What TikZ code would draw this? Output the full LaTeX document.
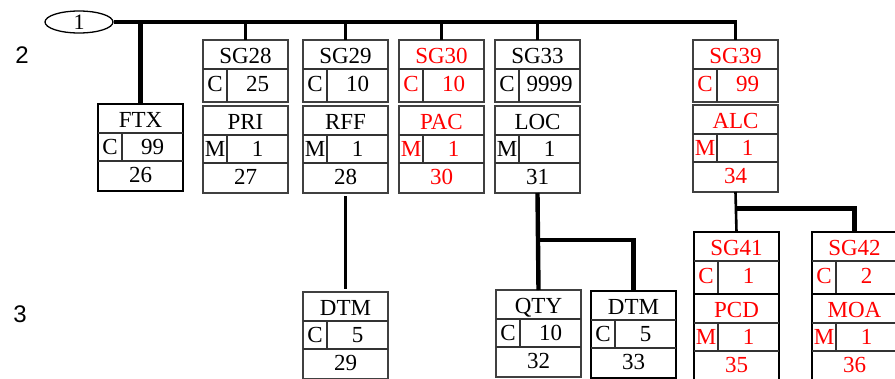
\documentclass[tikz,border=0pt]{standalone}
\usepackage{fontspec}
\setmainfont{Liberation Serif}
\newfontfamily\lblsans{Liberation Sans}
\usetikzlibrary{shapes.geometric}

\tikzset{
  boxframe/.style={rectangle, draw=black!75, line width=1.8pt, inner sep=0pt, outer sep=0pt, minimum width=85pt, anchor=north west},
  boxdark/.style={boxframe, draw=black, line width=2.3pt},
  rowline/.style={draw=black!80, line width=1.6pt},
  segtxt/.style={inner sep=0pt, font=\fontsize{23}{25}\selectfont, text height=15pt, text depth=0pt},
  mainlink/.style={line width=3.6pt},
  thinlink/.style={line width=2.6pt},
  thicklink/.style={line width=4.4pt},
  levellbl/.style={font=\lblsans\fontsize{24}{26}\selectfont}
}

% group box: id, x, y, name, status, repeat, colour, frame
\newcommand{\grpbox}[8]{%
  \node[#8, minimum height=62pt] (#1) at (#2,#3) {};
  \draw[rowline] (#2,#3+29) -- ++(85,0);
  \draw[rowline] (#2+24,#3+29) -- ++(0,33);
  \node[segtxt, text=#7] (#1-name) at (#2+42.5,#3+16) {#4};
  \node[segtxt, text=#7] (#1-st) at (#2+12,#3+44) {#5};
  \node[segtxt, text=#7] (#1-rep) at (#2+54.5,#3+44) {#6};
}

% segment box: id, x, y, name, status, repeat, position, colour, frame
\newcommand{\segbox}[9]{%
  \node[#9, minimum height=87pt] (#1) at (#2,#3) {};
  \draw[rowline] (#2,#3+29) -- ++(85,0);
  \draw[rowline] (#2,#3+57) -- ++(85,0);
  \draw[rowline] (#2+24,#3+29) -- ++(0,28);
  \node[segtxt, text=#8] (#1-name) at (#2+42.5,#3+16) {#4};
  \node[segtxt, text=#8] (#1-st) at (#2+12,#3+43) {#5};
  \node[segtxt, text=#8] (#1-rep) at (#2+54.5,#3+43) {#6};
  \node[segtxt, text=#8] (#1-pos) at (#2+42.5,#3+71) {#7};
}

\begin{document}
\begin{tikzpicture}[x=1pt, y=-1pt]
  \useasboundingbox (0,0) rectangle (895,378);
  \clip (0,0) rectangle (895,378);

  % Level labels
  \node[levellbl] (lvl2) at (22,55) {2};
  \node[levellbl] (lvl3) at (20,314) {3};

  % Root
  \node[ellipse, draw, line width=1.3pt, minimum width=68pt, minimum height=22pt, inner sep=0pt,
        font=\fontsize{22}{24}\selectfont] (root) at (79,22) {1};

  % Level 2
  \segbox{ftx}{98}{104}{FTX}{C}{99}{26}{black}{boxdark}
  \grpbox{sg28}{203}{40}{SG28}{C}{25}{black}{boxframe}
  \segbox{pri}{203}{106}{PRI}{M}{1}{27}{black}{boxframe}
  \grpbox{sg29}{303}{40}{SG29}{C}{10}{black}{boxframe}
  \segbox{rff}{303}{106}{RFF}{M}{1}{28}{black}{boxframe}
  \grpbox{sg30}{399}{40}{SG30}{C}{10}{red}{boxframe}
  \segbox{pac}{399}{106}{PAC}{M}{1}{30}{red}{boxframe}
  \grpbox{sg33}{495}{40}{SG33}{C}{9999}{black}{boxframe}
  \segbox{loc}{495}{106}{LOC}{M}{1}{31}{black}{boxframe}
  \grpbox{sg39}{693}{40}{SG39}{C}{99}{red}{boxframe}
  \segbox{alc}{693}{105}{ALC}{M}{1}{34}{red}{boxframe}

  % Level 3
  \segbox{dtm29}{303}{292}{DTM}{C}{5}{29}{black}{boxframe}
  \segbox{qty}{496}{290}{QTY}{C}{10}{32}{black}{boxframe}
  \segbox{dtm33}{591}{291}{DTM}{C}{5}{33}{black}{boxdark}
  \grpbox{sg41}{694}{232}{SG41}{C}{1}{red}{boxdark}
  \segbox{pcd}{694}{294}{PCD}{M}{1}{35}{red}{boxdark}
  \grpbox{sg42}{812}{232}{SG42}{C}{2}{red}{boxdark}
  \segbox{moa}{812}{294}{MOA}{M}{1}{36}{red}{boxdark}

  % Connectors
  \draw[mainlink] (root.east) -| (sg39.north);
  \draw[thicklink, line width=5pt] (ftx.north) -- (ftx.north |- root.east);
  \foreach \g in {sg28,sg29,sg30,sg33}
    \draw[thinlink] (\g.north) -- (\g.north |- root.east);
  \draw[thinlink] ([yshift=-3pt]rff.south) -- ([yshift=3pt]dtm29.north);
  \coordinate (locfork) at ([yshift=-47pt]loc.south);
  \draw[thicklink] (loc.south) -- (qty.north);
  \draw[thicklink] (locfork) -| (dtm33.north);
  \coordinate (alcfork) at ([yshift=-16pt]alc.south);
  \draw[thinlink] (alc.south) -- (sg41.north);
  \draw[thicklink, line width=5pt] (alcfork) -| (sg42.north);
\end{tikzpicture}
\end{document}
